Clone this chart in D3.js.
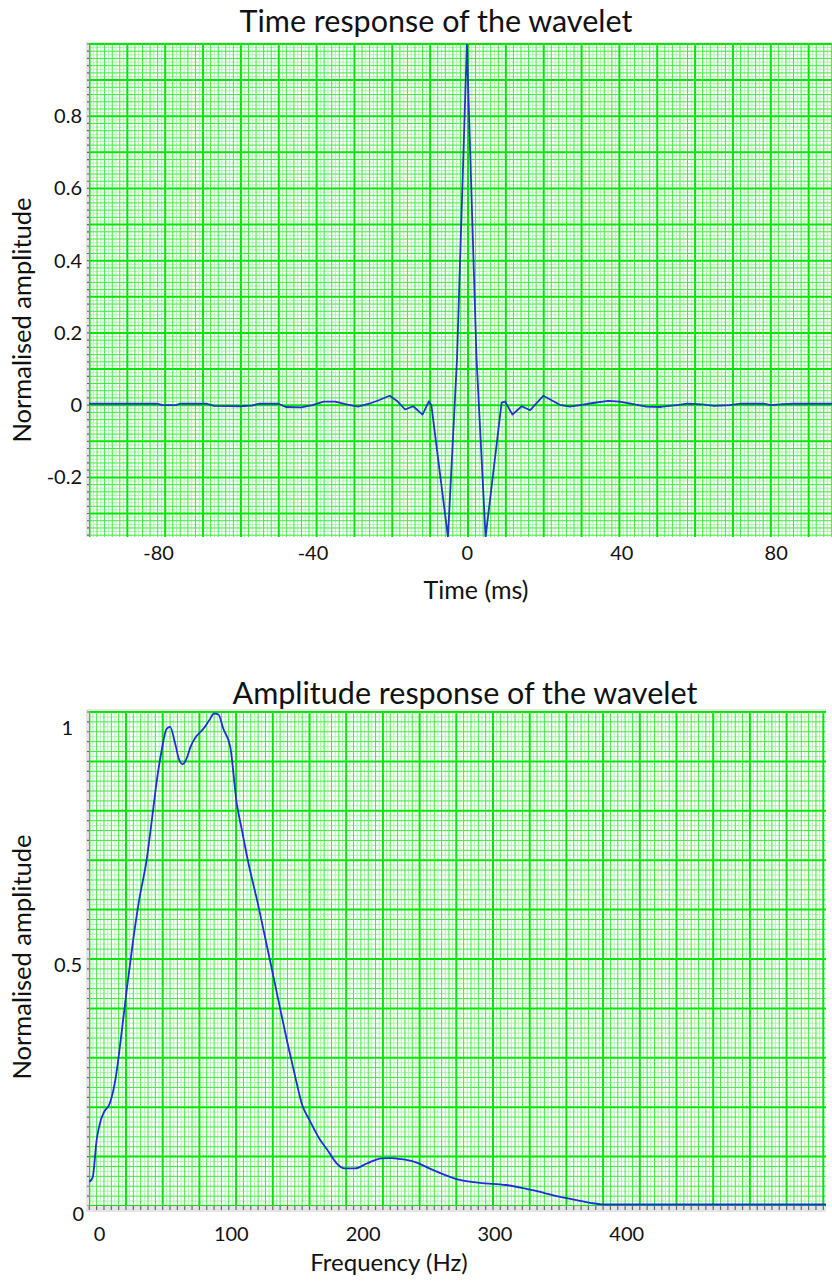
<!DOCTYPE html>
<html>
<head>
<meta charset="utf-8">
<script src="https://cdn.jsdelivr.net/npm/d3@7"></script>
<style>
  body { margin: 0; background: #fff; }
  svg { display: block; font-family: Lato, 'Open Sans', sans-serif; }
</style>
</head>
<body>
<svg id="chart" width="832" height="1282"></svg>
<script>
// time response of the wavelet
const timeMs = [-97.9, -80.3, -78.8, -75.4, -74.4, -67.5, -65.5, -58.7, -55.7, -53.8, -48.8, -46.9, -42.9, -40,
  -37.1, -34.1, -31.2, -28.2, -25.3, -22.5, -20, -17.9, -16, -13.9, -11.5, -9.8, -9.2, -4.9, -2.55, 0, 2.5, 4.85,
  9, 9.9, 11.8, 14.2, 16.4, 19.8, 24.1, 26.7, 29.3, 32.7, 36.6, 39.5, 43.5, 46.4, 50.3, 54.3, 57.2, 61.1, 64.1, 68,
  71, 76.9, 78.8, 81.8, 84.7, 94.6];
const timeAmp = [0.004, 0.004, 0, 0, 0.004, 0.004, -0.002, -0.003, -0.001, 0.004, 0.004, -0.005, -0.006, 0, 0.01,
  0.01, 0.002, -0.004, 0.004, 0.015, 0.026, 0.01, -0.012, -0.003, -0.026, 0.011, 0, -0.365, 0.13, 1.0, 0.13, -0.365,
  0.007, 0.01, -0.026, -0.003, -0.014, 0.026, 0.001, -0.004, 0, 0.006, 0.012, 0.01, 0.002, -0.004, -0.005, 0, 0.004,
  0.002, -0.002, 0, 0.004, 0.004, 0, 0.003, 0.004, 0.004];

// amplitude response of the wavelet
const freqHz = [-7.4, -4.8, -1.8, 1.5, 3.8, 8.2, 12.7, 17.1, 21.6, 26, 30.5, 36.1, 40.5, 43.9, 47.5, 51.3, 53.9,
  57.7, 60.6, 63.5, 66.5, 69.5, 72.8, 79.5, 84, 87.3, 90.6, 94.3, 99.6, 104.5, 108.5, 112.9, 120.7, 126.3, 131.9,
  137.4, 143, 148.6, 154.1, 159.7, 167.5, 174.2, 179.8, 186.4, 194.2, 203.2, 214.3, 222.1, 228.8, 238.8, 253.3,
  271.1, 288.9, 309, 329, 349.1, 362.4, 373.6, 384, 551.6];
const freqAmp = [0.049, 0.058, 0.134, 0.175, 0.19, 0.208, 0.26, 0.35, 0.45, 0.54, 0.62, 0.70, 0.79, 0.862, 0.922,
  0.966, 0.97, 0.937, 0.905, 0.894, 0.906, 0.93, 0.947, 0.967, 0.985, 0.997, 0.995, 0.966, 0.929, 0.815, 0.76, 0.70,
  0.61, 0.54, 0.47, 0.40, 0.33, 0.265, 0.205, 0.174, 0.135, 0.11, 0.088, 0.076, 0.076, 0.086, 0.0965, 0.097, 0.095,
  0.09, 0.073, 0.0546, 0.047, 0.0425, 0.032, 0.019, 0.012, 0.006, 0.003, 0.003];

const timeTicks = [-80, -40, 0, 40, 80];
const timeAmpTicks = [-0.2, 0, 0.2, 0.4, 0.6, 0.8];
const freqTicks = [0, 100, 200, 300, 400];
const freqAmpTicks = [0, 0.5, 1];

const svg = d3.select('#chart');

// graph paper: major line every `major` px from `origin`, split in `div` steps
const paperLines = (lo, hi, origin, major, div) => {
  const step = major / div;
  return d3.range(Math.ceil((lo - origin) / step - 1e-6), Math.floor((hi - origin) / step + 1e-6) + 1)
    .map(k => ({ p: origin + k * step, k }));
};

// fine lines every tenth, mid lines every fifth, thick major lines
const drawGrid = (g, box, gx, gy) => {
  const levels = [
    { div: 10, keep: k => k % 2 !== 0, color: '#aef5ae', w: 1 },
    { div: 10, keep: k => k % 2 === 0 && k % 10 !== 0, color: '#3cec3c', w: 1 },
    { div: 1, keep: () => true, color: '#00e600', w: 2 }
  ];
  levels.forEach(lv => {
    g.append('g').selectAll('line')
      .data(paperLines(box.x0, box.x1, gx.origin, gx.major, lv.div).filter(d => lv.keep(d.k)))
      .join('line')
      .attr('x1', d => d.p).attr('x2', d => d.p).attr('y1', box.y0).attr('y2', box.y1)
      .attr('stroke', lv.color).attr('stroke-width', lv.w);
    g.append('g').selectAll('line')
      .data(paperLines(box.y0, box.y1, gy.origin, gy.major, lv.div).filter(d => lv.keep(d.k)))
      .join('line')
      .attr('y1', d => d.p).attr('y2', d => d.p).attr('x1', box.x0).attr('x2', box.x1)
      .attr('stroke', lv.color).attr('stroke-width', lv.w);
  });
};

// gray strip on the left with small dark ticks
const leftStrip = (g, box, gy) => {
  g.append('rect').attr('x', box.x0 - 3).attr('y', box.y0 - 2).attr('width', 3)
    .attr('height', box.y1 - box.y0 + 2).attr('fill', '#e4e4e4');
  g.append('g').selectAll('line')
    .data(paperLines(box.y0, box.y1, gy.origin, gy.major, 5))
    .join('line')
    .attr('x1', box.x0 - 2).attr('x2', box.x0).attr('y1', d => d.p).attr('y2', d => d.p)
    .attr('stroke', '#666').attr('stroke-width', 1.2);
};

const styleLabels = (sel, size) => {
  sel.select('.domain').remove();
  sel.selectAll('text').style('font-size', size + 'px').attr('fill', '#111')
    .style('font-family', 'Lato, sans-serif');
};

/* ---------- time response ---------- */
const xT = d3.scaleLinear().domain([-97.9, 94.6]).range([89, 832]);
const yT = d3.scaleLinear().domain([-0.365, 1.0]).range([537, 44]);
const boxT = { x0: 89, x1: 832, y0: 44, y1: 537 };

const gTime = svg.append('g');
gTime.append('rect').attr('x', 86).attr('y', 42).attr('width', 746).attr('height', 2).attr('fill', '#e6e6e6');
drawGrid(gTime, boxT, { origin: 468, major: 37.85 }, { origin: yT(0), major: yT(0) - yT(0.1) });
leftStrip(gTime, boxT, { origin: yT(0), major: yT(0) - yT(0.1) });

gTime.append('clipPath').attr('id', 'clipT').append('rect')
  .attr('x', boxT.x0).attr('y', boxT.y0).attr('width', boxT.x1 - boxT.x0).attr('height', boxT.y1 - boxT.y0);

const timeLine = d3.line().x(d => xT(d[0])).y(d => yT(d[1]));
gTime.append('path')
  .datum(d3.zip(timeMs, timeAmp))
  .attr('clip-path', 'url(#clipT)')
  .attr('d', timeLine)
  .attr('fill', 'none').attr('stroke', '#2233cc').attr('stroke-width', 1.8)
  .attr('stroke-linejoin', 'round');

gTime.append('g').attr('transform', 'translate(86,0)')
  .call(d3.axisLeft(yT).tickValues(timeAmpTicks).tickSize(0).tickPadding(4).tickFormat(d => String(d)))
  .call(sel => styleLabels(sel, 20));

gTime.append('g').attr('transform', 'translate(0,537)')
  .call(d3.axisBottom(xT).tickValues(timeTicks).tickSize(0).tickPadding(9).tickFormat(d => String(d)))
  .call(sel => styleLabels(sel, 20));

gTime.append('text').attr('x', 436).attr('y', 32).attr('text-anchor', 'middle')
  .style('font-size', '30.5px').attr('fill', '#111').text('Time response of the wavelet');
gTime.append('text').attr('x', 476).attr('y', 599).attr('text-anchor', 'middle')
  .style('font-size', '25px').attr('fill', '#111').text('Time (ms)');
gTime.append('text').attr('transform', 'translate(31,320) rotate(-90)').attr('text-anchor', 'middle')
  .style('font-size', '25.5px').attr('fill', '#111').text('Normalised amplitude');

/* ---------- amplitude response ---------- */
const xF = d3.scaleLinear().domain([-7.6, 551.6]).range([89, 826]);
const yF = d3.scaleLinear().domain([0, 1]).range([1206, 712]);
const boxF = { x0: 89, x1: 826, y0: 712, y1: 1206 };

const gFreq = svg.append('g');
gFreq.append('rect').attr('x', 86).attr('y', 709).attr('width', 740).attr('height', 2).attr('fill', '#e6e6e6');
drawGrid(gFreq, boxF, { origin: 89.3, major: 36.7 }, { origin: yF(0), major: yF(0) - yF(0.1) });
leftStrip(gFreq, boxF, { origin: yF(0), major: yF(0) - yF(0.1) });

// bottom gray strip with small ticks
gFreq.append('rect').attr('x', 86).attr('y', 1206).attr('width', 740).attr('height', 6).attr('fill', '#e4e4e4');
gFreq.append('g').selectAll('line')
  .data(paperLines(boxF.x0, boxF.x1, 89.3, 36.7, 5))
  .join('line')
  .attr('x1', d => d.p).attr('x2', d => d.p).attr('y1', 1206).attr('y2', 1210)
  .attr('stroke', '#666').attr('stroke-width', 1.2);

const freqLine = d3.line().curve(d3.curveMonotoneX).x(d => xF(d[0])).y(d => yF(d[1]));
gFreq.append('path')
  .datum(d3.zip(freqHz, freqAmp))
  .attr('d', freqLine)
  .attr('fill', 'none').attr('stroke', '#1f2be0').attr('stroke-width', 1.8)
  .attr('stroke-linejoin', 'round');

gFreq.append('g').attr('transform', 'translate(86,0)')
  .call(d3.axisLeft(yF).tickValues(freqAmpTicks).tickSize(0).tickPadding(4).tickFormat(d => String(d)))
  .call(sel => styleLabels(sel, 20))
  .call(sel => sel.selectAll('text').attr('dy', d => d === 1 ? '1.1em' : d === 0 ? '0.72em' : '0.6em')
    .attr('dx', d => d === 1 ? -9 : d === 0 ? 2 : 0));

gFreq.append('g').attr('transform', 'translate(0,1206)')
  .call(d3.axisBottom(xF).tickValues(freqTicks).tickSize(0).tickPadding(21).tickFormat(d => String(d)))
  .call(sel => styleLabels(sel, 20));

gFreq.append('text').attr('x', 465).attr('y', 704).attr('text-anchor', 'middle')
  .style('font-size', '30.5px').attr('fill', '#111').text('Amplitude response of the wavelet');
gFreq.append('text').attr('x', 389).attr('y', 1271).attr('text-anchor', 'middle')
  .style('font-size', '24px').attr('fill', '#111').text('Frequency (Hz)');
gFreq.append('text').attr('transform', 'translate(31,957) rotate(-90)').attr('text-anchor', 'middle')
  .style('font-size', '25.5px').attr('fill', '#111').text('Normalised amplitude');
</script>
</body>
</html>
